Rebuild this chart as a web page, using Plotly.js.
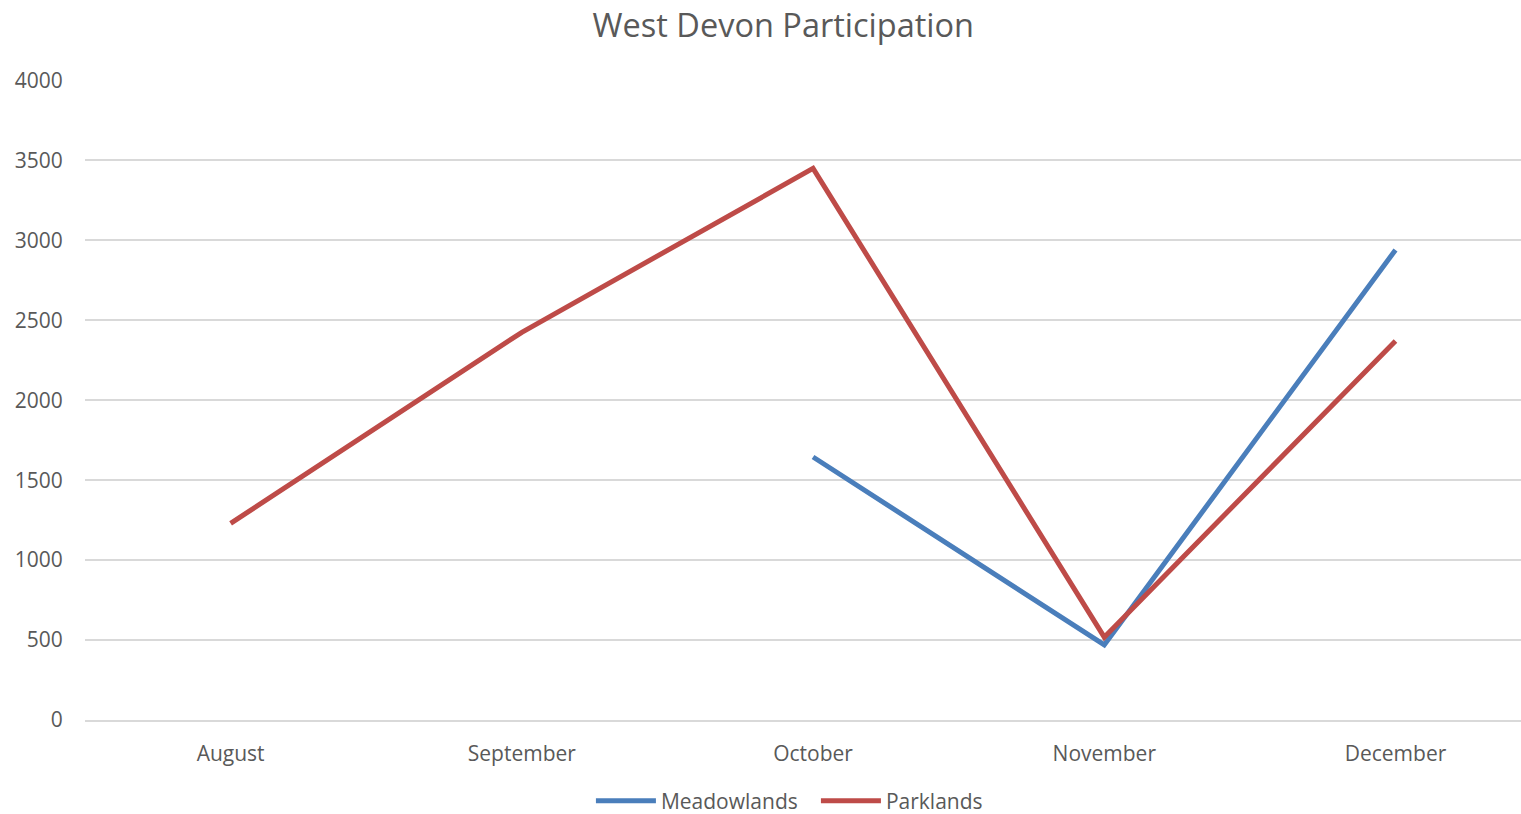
<!DOCTYPE html>
<html>
<head>
<meta charset="utf-8">
<script src="https://cdn.plot.ly/plotly-3.0.1.min.js"></script>
<style>html,body{margin:0;padding:0;background:#fff;}#chart{width:1521px;height:814px;}</style>
</head>
<body>
<div id="chart"></div>
<script>
const months = ["August", "September", "October", "November", "December"];
const meadowlands = [null, null, 1645, 470, 2940];
const parklands = [1230, 2425, 3450, 518, 2370];
const yTicks = [0, 500, 1000, 1500, 2000, 2500, 3000, 3500, 4000];

const font = "'Open Sans', Lato, sans-serif";
const traces = [
  {x: months, y: meadowlands, name: "Meadowlands", type: "scatter", mode: "lines",
   line: {color: "#4a7ebb", width: 5}, connectgaps: false},
  {x: months, y: parklands, name: "Parklands", type: "scatter", mode: "lines",
   line: {color: "#be4b48", width: 5}}
];
const layout = {
  width: 1521, height: 814,
  paper_bgcolor: "#fff", plot_bgcolor: "#fff",
  margin: {l: 85, r: 0, t: 80, b: 94},
  title: {text: "West Devon Participation", x: 0.515, xanchor: "center", y: 0.968, yanchor: "middle",
          font: {family: font, size: 32.5, color: "#595959"}},
  font: {family: font, color: "#595959"},
  xaxis: {type: "category", range: [-0.5, 4.431], showgrid: false, zeroline: false, automargin: false,
          showline: true, linecolor: "#d9d9d9", linewidth: 1.5,
          ticks: "outside", ticklen: 14, tickcolor: "rgba(0,0,0,0)",
          tickfont: {family: font, size: 21, color: "#595959"}},
  yaxis: {range: [0, 4003], tickvals: yTicks, showgrid: true, gridcolor: "#d9d9d9", gridwidth: 1.5,
          zeroline: false, showline: false, automargin: false,
          ticks: "outside", ticklen: 17, tickcolor: "rgba(0,0,0,0)",
          tickfont: {family: font, size: 21, color: "#595959"}},
  showlegend: true,
  legend: {orientation: "h", x: 0.509, xanchor: "center", yref: "container", y: 0.016, yanchor: "middle",
           font: {family: font, size: 21, color: "#595959"}, itemwidth: 60, entrywidth: 150,
           tracegroupgap: 0}
};
Plotly.newPlot("chart", traces, layout, {displayModeBar: false});
</script>
</body>
</html>
